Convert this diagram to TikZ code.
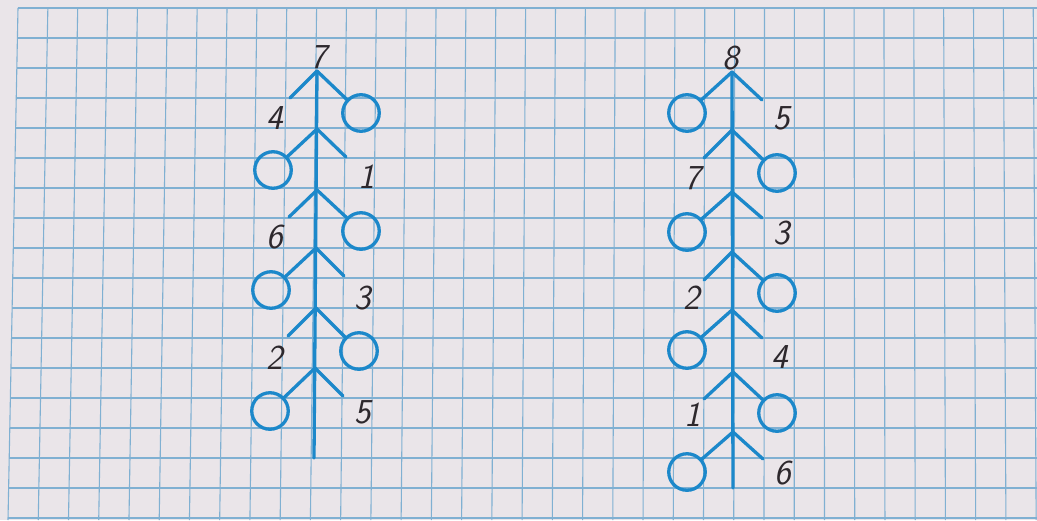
\documentclass[tikz,border=0pt]{standalone}
\usepackage{fontspec}
\definecolor{paper}{RGB}{234,229,233}
\definecolor{gridblue}{RGB}{128,176,210}
\definecolor{treeblue}{RGB}{28,136,202}
\definecolor{ink}{RGB}{45,40,45}
\begin{document}
\begin{tikzpicture}[x=1pt,y=-1pt,
  tree/.style={draw=treeblue,line width=3.3pt,line cap=round},
  ring/.style={circle,draw=treeblue,line width=3.3pt,minimum size=36.5pt,inner sep=0pt},
  num/.style={font=\fontsize{35}{35}\selectfont\sffamily\itshape,text=ink,inner sep=0pt},
  gridline/.style={draw=gridblue,line width=1.1pt}]
\useasboundingbox (0,0) rectangle (1037,520);
\fill[paper] (0,0) rectangle (1037,520);
% graph paper
\begin{scope}
\clip (0,0) rectangle (1037,520);
\foreach \k in {0,...,34}
  \draw[gridline] ({18+29.86*\k},8) -- ({8+30.24*\k},520);
\foreach \k in {0,...,17}
  \draw[gridline] ({18-10*(30*\k)/512},{8+30*\k}) -- (1037,{8+30*\k});
\end{scope}
% ---------- tree 1 ----------
\coordinate (a1) at (317,71);
\coordinate (a2) at (317,129);
\coordinate (a3) at (317,190);
\coordinate (a4) at (316,248);
\coordinate (a5) at (316,308);
\coordinate (a6) at (315,368);
\coordinate (aend) at (314,458);
\draw[tree] (a1) -- (aend);
\node[num] (atop) at (319,57) {7};
% 1
\coordinate (as1) at (290,98);
\node[ring] (ac1) at (361,113) {};
\draw[tree] (a1) -- (as1);
\draw[tree] (a1) -- (ac1);
\node[num] (al1) at (275,118) {4};
% 2
\node[ring] (ac2) at (273,170) {};
\coordinate (as2) at (346,157);
\draw[tree] (a2) -- (ac2);
\draw[tree] (a2) -- (as2);
\node[num] (al2) at (367,177) {1};
% 3
\coordinate (as3) at (289,217);
\node[ring] (ac3) at (361,231) {};
\draw[tree] (a3) -- (as3);
\draw[tree] (a3) -- (ac3);
\node[num] (al3) at (275,237) {6};
% 4
\node[ring] (ac4) at (271,290) {};
\coordinate (as4) at (344,276);
\draw[tree] (a4) -- (ac4);
\draw[tree] (a4) -- (as4);
\node[num] (al4) at (363,298) {3};
% 5
\coordinate (as5) at (288,336);
\node[ring] (ac5) at (359,351) {};
\draw[tree] (a5) -- (as5);
\draw[tree] (a5) -- (ac5);
\node[num] (al5) at (275,358) {2};
% 6
\node[ring] (ac6) at (270,411) {};
\coordinate (as6) at (343,396);
\draw[tree] (a6) -- (ac6);
\draw[tree] (a6) -- (as6);
\node[num] (al6) at (363,412) {5};
% ---------- tree 2 ----------
\coordinate (b1) at (732,72);
\coordinate (b2) at (732,130);
\coordinate (b3) at (732,192);
\coordinate (b4) at (732,252);
\coordinate (b5) at (732,310);
\coordinate (b6) at (733,372);
\coordinate (b7) at (733,432);
\coordinate (bend) at (733,488);
\draw[tree] (b1) -- (bend);
\node[num] (btop) at (731,58) {8};
% 1
\node[ring] (bc1) at (687,113) {};
\coordinate (bs1) at (762,100);
\draw[tree] (b1) -- (bc1);
\draw[tree] (b1) -- (bs1);
\node[num] (bl1) at (782,118) {5};
% 2
\coordinate (bs2) at (704,158);
\node[ring] (bc2) at (777,173) {};
\draw[tree] (b2) -- (bs2);
\draw[tree] (b2) -- (bc2);
\node[num] (bl2) at (693,178) {7};
% 3
\node[ring] (bc3) at (687,232) {};
\coordinate (bs3) at (762,218);
\draw[tree] (b3) -- (bc3);
\draw[tree] (b3) -- (bs3);
\node[num] (bl3) at (782,233) {3};
% 4
\coordinate (bs4) at (704,280);
\node[ring] (bc4) at (777,293) {};
\draw[tree] (b4) -- (bs4);
\draw[tree] (b4) -- (bc4);
\node[num] (bl4) at (692,298) {2};
% 5
\node[ring] (bc5) at (687,350) {};
\coordinate (bs5) at (762,338);
\draw[tree] (b5) -- (bc5);
\draw[tree] (b5) -- (bs5);
\node[num] (bl5) at (780,357) {4};
% 6
\coordinate (bs6) at (704,399);
\node[ring] (bc6) at (777,413) {};
\draw[tree] (b6) -- (bs6);
\draw[tree] (b6) -- (bc6);
\node[num] (bl6) at (693,415) {1};
% 7
\node[ring] (bc7) at (687,472) {};
\coordinate (bs7) at (763,459);
\draw[tree] (b7) -- (bc7);
\draw[tree] (b7) -- (bs7);
\node[num] (bl7) at (783,473) {6};
\end{tikzpicture}
\end{document}
